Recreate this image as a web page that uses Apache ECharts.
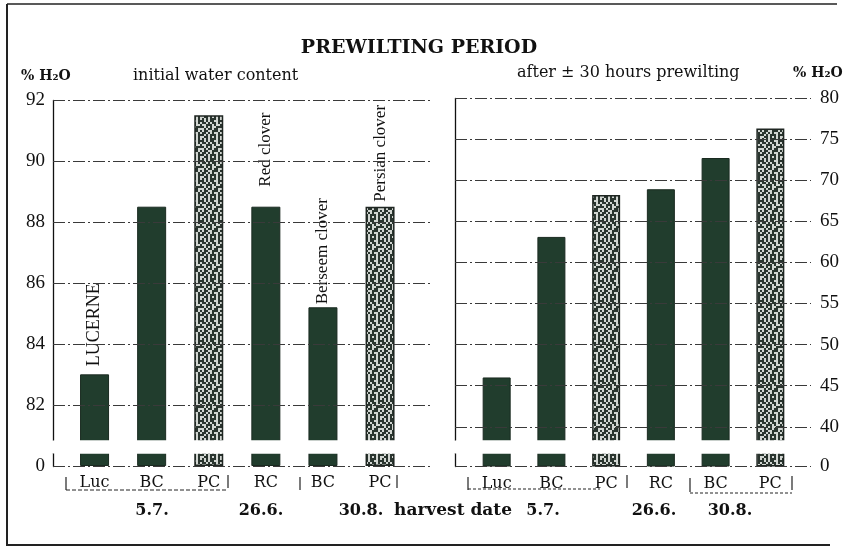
<!DOCTYPE html>
<html><head><meta charset="utf-8">
<script src="https://cdn.jsdelivr.net/npm/echarts@6/dist/echarts.min.js"></script>
<style>html,body{margin:0;padding:0;background:#fff}#c{width:849px;height:547px}</style>
</head><body><div id="c"></div>
<script>
// ---- data ----
const categories = ['Luc', 'BC', 'PC', 'RC', 'BC', 'PC'];
const species = ['LUCERNE', '', '', 'Red clover', 'Berseem clover', 'Persian clover'];
const harvestDates = ['5.7.', '26.6.', '30.8.'];
const initialWater = [83.0, 88.5, 91.5, 88.5, 85.2, 88.5];     // % H2O, initial
const afterPrewilting = [46.0, 63.1, 68.2, 68.9, 72.7, 76.3];  // % H2O after ±30 h
const persianBar = [false, false, true, false, false, true];
const leftTickLabels = [0, 82, 84, 86, 88, 90, 92];
const rightTickLabels = [0, 40, 45, 50, 55, 60, 65, 70, 75, 80];
const leftAxisCfg = { min: 0, max: 92, interval: 2, breakStart: 0.43, breakEnd: 80.85, gap: '3.55%' };
const rightAxisCfg = { min: 0, max: 80, interval: 5, breakStart: 1.63, breakEnd: 38.38, gap: '3.53%' };

const SERIF = 'DejaVu Serif';
const TIMES = 'Liberation Serif';
const GREEN = '#213d2d';
const GRID_LINE = { color: '#3a3a3a', width: 1, type: [12, 3, 2, 3] };

// speckled texture for the Persian clover bars (fixed pattern, 2px cells)
const TEX_ROWS = [
  '##.#.##..#',
  '.##.#.##.#',
  '#..###.#..',
  '##.#.#..##',
  '..#.##.##.',
  '#.##..###.',
  '.##.#.#..#',
  '##.#.###.#',
  '..##.#.#.#',
  '.#.#.###.#'
];
const tex = document.createElement('canvas');
tex.width = 20; tex.height = 20;
(function () {
  const g = tex.getContext('2d');
  TEX_ROWS.forEach((row, y) => {
    for (let x = 0; x < row.length; x++) {
      g.fillStyle = row[x] === '#' ? '#2a352f' : '#d2d6d2';
      g.fillRect(x * 2, y * 2, 2, 2);
    }
  });
})();
const PC_FILL = { image: tex, repeat: 'repeat' };

const breakArea = {
  show: true,
  itemStyle: { color: '#ffffff', opacity: 1, borderColor: '#ffffff', borderWidth: 0 },
  zigzagAmplitude: 0,
  zigzagZ: 100,
  expandOnClick: false
};

function axisY(cfg, opts) {
  return Object.assign({
    type: 'value',
    min: cfg.min, max: cfg.max, interval: cfg.interval,
    breaks: [{ start: cfg.breakStart, end: cfg.breakEnd, gap: cfg.gap }],
    breakArea: breakArea,
    axisTick: { show: false }, splitLine: { show: false }, axisLabel: { show: false }
  }, opts);
}

function barData(values) {
  return values.map((v, i) => ({
    value: v,
    itemStyle: persianBar[i]
      ? { color: PC_FILL, borderColor: '#1f2622', borderWidth: 1.5 }
      : { color: GREEN, borderColor: '#1a2a20', borderWidth: 1 }
  }));
}

const speciesGap = [8, 0, 0, 20, 3, 5];

const leftData = barData(initialWater).map((d, i) => Object.assign(d, {
  label: {
    show: species[i] !== '', position: 'top', rotate: 90, align: 'left', verticalAlign: 'middle',
    distance: speciesGap[i], formatter: species[i],
    fontFamily: TIMES, fontSize: i === 0 ? 18 : 17, color: '#111'
  }
}));

function gridLines(values, side) {
  return {
    type: 'line', data: [], silent: true,
    markLine: {
      silent: true, symbol: 'none', animation: false,
      lineStyle: GRID_LINE,
      label: {
        show: true, position: side, formatter: '{c}', distance: side === 'start' ? 8 : 9,
        fontFamily: TIMES, fontSize: 19, color: '#111'
      },
      data: values.map(v => ({ yAxis: v }))
    }
  };
}

const chart = echarts.init(document.getElementById('c'), null, { renderer: 'canvas' });

function txt(x, y, text, size, opts) {
  return {
    type: 'text', x: x, y: y, z: 200,
    style: Object.assign({
      text: text, fontFamily: SERIF, fontSize: size, fill: '#111',
      textAlign: 'left', textVerticalAlign: 'middle'
    }, opts || {})
  };
}
function line(x1, y1, x2, y2, w, dash) {
  return {
    type: 'line', z: 200,
    shape: { x1: x1, y1: y1, x2: x2, y2: y2 },
    style: { stroke: '#222', lineWidth: w || 1, lineDash: dash || null }
  };
}

chart.setOption({
  animation: false,
  backgroundColor: '#fff',
  grid: [
    { left: 53, width: 377, top: 100, height: 366 },
    { left: 66, width: 342.6, top: 100, height: 366 },
    { left: 455, width: 356, top: 98, height: 368.5 },
    { left: 469.3, width: 328.4, top: 98, height: 368.5 }
  ],
  xAxis: [
    { gridIndex: 0, type: 'value', min: 0, max: 1, show: false },
    { gridIndex: 1, type: 'category', data: categories,
      axisLine: { show: false }, axisTick: { show: false },
      axisLabel: { margin: 9, fontFamily: SERIF, fontSize: 16, color: '#111' } },
    { gridIndex: 2, type: 'value', min: 0, max: 1, show: false },
    { gridIndex: 3, type: 'category', data: categories,
      axisLine: { show: false }, axisTick: { show: false },
      axisLabel: { margin: 9, fontFamily: SERIF, fontSize: 16, color: '#111' } }
  ],
  yAxis: [
    axisY(leftAxisCfg, {
      gridIndex: 0, position: 'left',
      axisLine: { show: true, lineStyle: { color: '#111', width: 1.3 } }
    }),
    axisY(leftAxisCfg, { gridIndex: 1, position: 'left', axisLine: { show: false } }),
    axisY(rightAxisCfg, {
      gridIndex: 2, position: 'right',
      axisLine: { show: true, lineStyle: { color: '#111', width: 1.3 } }
    }),
    axisY(rightAxisCfg, { gridIndex: 3, position: 'right', axisLine: { show: false } })
  ],
  series: [
    Object.assign(gridLines(leftTickLabels, 'start'), { xAxisIndex: 0, yAxisIndex: 0 }),
    Object.assign(gridLines(rightTickLabels, 'end'), { xAxisIndex: 2, yAxisIndex: 2 }),
    { type: 'bar', name: 'initial water content', xAxisIndex: 1, yAxisIndex: 1,
      barWidth: 29, data: leftData },
    { type: 'bar', name: 'after ±30 hours prewilting', xAxisIndex: 3, yAxisIndex: 3,
      barWidth: 28, data: barData(afterPrewilting) }
  ],
  graphic: [
    line(7, 4, 7, 546, 2), line(7, 4, 837, 4, 1.5), line(7, 545, 830, 545, 2),
    txt(419, 48, 'PREWILTING PERIOD', 19, { fontWeight: 'bold', textAlign: 'center' }),
    txt(21, 76, '% H₂O', 14, { fontWeight: 'bold' }),
    txt(133, 76, 'initial water content', 16),
    txt(517, 73, 'after ± 30 hours prewilting', 16),
    txt(793, 73, '% H₂O', 14, { fontWeight: 'bold' }),
    txt(152, 511, harvestDates[0], 16, { fontWeight: 'bold', textAlign: 'center' }),
    txt(261, 511, harvestDates[1], 16, { fontWeight: 'bold', textAlign: 'center' }),
    txt(361, 511, harvestDates[2], 16, { fontWeight: 'bold', textAlign: 'center' }),
    txt(453, 511, 'harvest date', 17, { fontWeight: 'bold', textAlign: 'center' }),
    txt(543, 511, harvestDates[0], 16, { fontWeight: 'bold', textAlign: 'center' }),
    txt(654, 511, harvestDates[1], 16, { fontWeight: 'bold', textAlign: 'center' }),
    txt(730, 511, harvestDates[2], 16, { fontWeight: 'bold', textAlign: 'center' }),
    line(66, 477, 66, 490, 1.2), line(66, 490, 228, 490, 1, [4, 2]), line(228, 475, 228, 488, 1.2),
    line(300, 477, 300, 490, 1.2), line(397, 475, 397, 488, 1.2),
    line(468, 477, 468, 490, 1.2), line(468, 489, 600, 489, 1, [3, 2]), line(627, 475, 627, 488, 1.2),
    line(690, 478, 690, 492, 1.2), line(690, 493, 792, 493, 1, [3, 2]), line(792, 476, 792, 490, 1.2)
  ]
});
</script>
</body></html>
